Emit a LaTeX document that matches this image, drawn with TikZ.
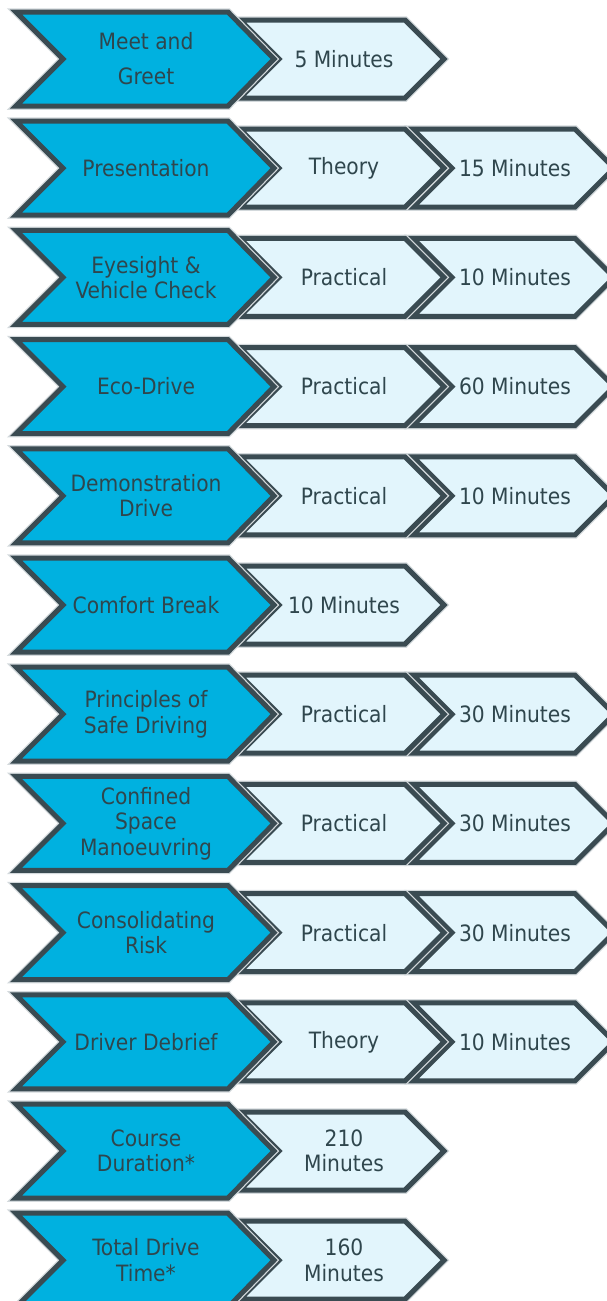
\documentclass[tikz,border=0pt]{standalone}
\usepackage{fontspec}
\setmainfont{DejaVu Sans Condensed}
\definecolor{blu}{HTML}{00B1E0}
\definecolor{chiaro}{HTML}{E2F5FC}
\definecolor{bordo}{HTML}{3A4B52}
\definecolor{testo}{HTML}{2F464D}
\definecolor{alone}{HTML}{D3D9DC}
\tikzset{
  freccia/.style={draw=bordo, line width=5pt, preaction={draw=alone, line width=7.5pt}},
  etichetta/.style={text=testo, align=center, inner sep=0pt, font=\fontsize{22.5}{25.5}\selectfont}
}
\begin{document}
\begin{tikzpicture}[x=1pt,y=-1pt]
    \useasboundingbox (0,0) rectangle (606,1301);
    % Terze frecce
    \foreach \r [evaluate=\r as \y using 59+109.2*(\r-1)] in {2,3,4,5,7,8,9,10}
        \draw[freccia, fill=chiaro] (413,\y-39) -- (575,\y-39) -- (614,\y) -- (575,\y+39) -- (413,\y+39) -- (452,\y) -- cycle;
    % Seconde frecce
    \foreach \r [evaluate=\r as \y using 59+109.2*(\r-1)] in {1,...,12}
        \draw[freccia, fill=chiaro] (240,\y-39) -- (405,\y-39) -- (444,\y) -- (405,\y+39) -- (240,\y+39) -- (279,\y) -- cycle;
    % Frecce blu
    \foreach \r [evaluate=\r as \y using 59+109.2*(\r-1)] in {1,...,12}
        \draw[freccia, fill=blu] (16,\y-47) -- (228,\y-47) -- (274,\y) -- (228,\y+47) -- (16,\y+47) -- (63,\y) -- cycle;
    % Testi
    \foreach \r/\a/\b [evaluate=\r as \y using 59+109.2*(\r-1)] in {
        1/{Meet and\\[9.5pt]Greet}/{5 Minutes},
        2/{Presentation}/{Theory},
        3/{Eyesight \&\\Vehicle Check}/{Practical},
        4/{Eco-Drive}/{Practical},
        5/{Demonstration\\Drive}/{Practical},
        6/{Comfort Break}/{10 Minutes},
        7/{Principles of\\Safe Driving}/{Practical},
        8/{Confined\\Space\\Manoeuvring}/{Practical},
        9/{Consolidating\\Risk}/{Practical},
        10/{Driver Debrief}/{Theory},
        11/{Course\\Duration*}/{210\\Minutes},
        12/{Total Drive\\Time*}/{160\\Minutes}} {
        \node[etichetta] (a\r) at (146,\y) {\a};
        \node[etichetta] (b\r) at (344,\y) {\b};
    }
    \foreach \r/\c [evaluate=\r as \y using 59+109.2*(\r-1)] in {2/15 Minutes, 3/10 Minutes, 4/60 Minutes, 5/10 Minutes, 7/30 Minutes, 8/30 Minutes, 9/30 Minutes, 10/10 Minutes}
        \node[etichetta] (c\r) at (515,\y) {\c};
\end{tikzpicture}
\end{document}
